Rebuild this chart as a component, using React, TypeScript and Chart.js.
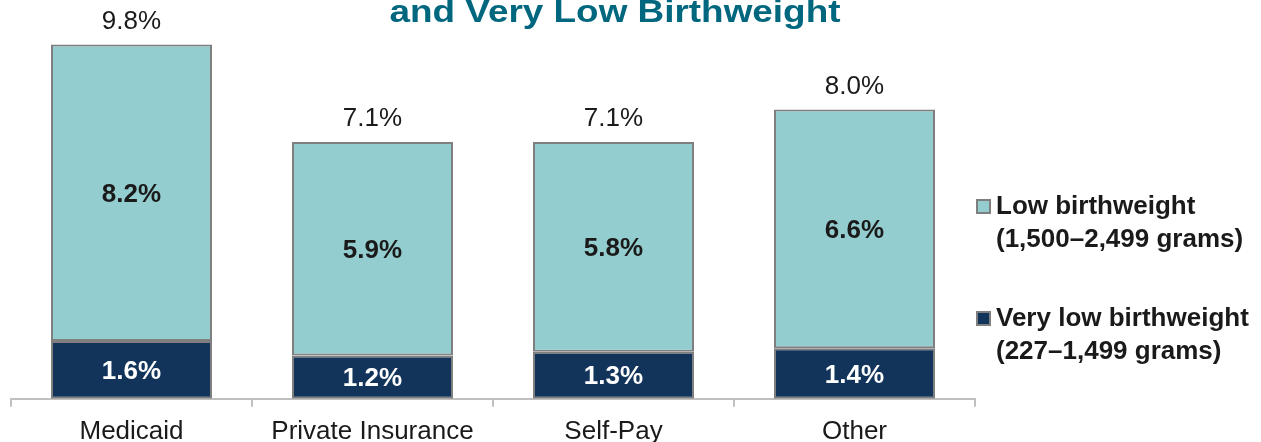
import React, { useEffect, useRef } from "react";
import { Chart, registerables } from "chart.js";

Chart.register(...registerables);

// ---- data ----
const categories = ["Medicaid", "Private Insurance", "Self-Pay", "Other"];
const veryLowValues = [1.6, 1.2, 1.3, 1.4];
const lowValues = [8.2, 5.9, 5.8, 6.6];
const totalValues = [9.8, 7.1, 7.1, 8.0];
const seriesNames = ["Very low birthweight", "Low birthweight"];
const seriesRanges = ["(227–1,499 grams)", "(1,500–2,499 grams)"];
const titleText = "and Very Low Birthweight";

// ---- styles ----
const FONT = "'Liberation Sans', Arial, sans-serif";
const LOW_COLOR = "#93CDCF";
const VERY_LOW_COLOR = "#12345A";
const BORDER_COLOR = "#7F7F7F";
const AXIS_COLOR = "#C0C0C0";
const TEXT_COLOR = "#1A1A1A";
const TITLE_COLOR = "#00677F";

const fmt = (v: number) => v.toFixed(1) + "%";

const labelsPlugin = {
  id: "segmentLabels",
  afterDatasetsDraw(chart: any) {
    const ctx = chart.ctx;
    ctx.save();
    ctx.textAlign = "center";
    ctx.textBaseline = "middle";
    chart.data.datasets.forEach((ds: any, di: number) => {
      const meta = chart.getDatasetMeta(di);
      meta.data.forEach((el: any, i: number) => {
        const { x, y, base } = el.getProps(["x", "y", "base"], true);
        ctx.font = `bold 26px ${FONT}`;
        ctx.fillStyle = di === 0 ? "#FFFFFF" : TEXT_COLOR;
        ctx.fillText(fmt(ds.data[i]), x, (y + base) / 2 + 2);
      });
    });
    const topMeta = chart.getDatasetMeta(chart.data.datasets.length - 1);
    topMeta.data.forEach((el: any, i: number) => {
      const { x, y } = el.getProps(["x", "y"], true);
      ctx.font = `26px ${FONT}`;
      ctx.fillStyle = TEXT_COLOR;
      ctx.fillText(fmt(totalValues[i]), x, y - 23);
    });
    ctx.restore();
  },
};

const legendPlugin = {
  id: "sideLegend",
  afterDraw(chart: any) {
    const ctx = chart.ctx;
    const area = chart.chartArea;
    const boxX = area.right + 1;
    const textX = area.right + 21;
    const lineGap = 33;
    const firstLineY = [area.top + 206, area.top + 318];
    const order = [1, 0];
    ctx.save();
    ctx.textAlign = "left";
    ctx.textBaseline = "middle";
    ctx.font = `bold 26px ${FONT}`;
    order.forEach((di, k) => {
      const ds = chart.data.datasets[di];
      const y0 = firstLineY[k];
      ctx.fillStyle = ds.backgroundColor;
      ctx.fillRect(boxX, y0 - 8, 15, 15);
      ctx.strokeStyle = BORDER_COLOR;
      ctx.lineWidth = 2;
      ctx.strokeRect(boxX + 1, y0 - 7, 13, 13);
      ctx.fillStyle = TEXT_COLOR;
      ctx.fillText(seriesNames[di], textX, y0);
      ctx.fillText(seriesRanges[di], textX, y0 + lineGap);
    });
    ctx.restore();
  },
};

export default function App() {
  const canvasRef = useRef<HTMLCanvasElement | null>(null);

  useEffect(() => {
    if (!canvasRef.current) return;
    const chart = new Chart(canvasRef.current, {
      type: "bar",
      data: {
        labels: categories,
        datasets: [
          {
            label: seriesNames[0],
            data: veryLowValues,
            backgroundColor: VERY_LOW_COLOR,
            borderColor: BORDER_COLOR,
            borderWidth: 2,
            borderSkipped: false,
            barPercentage: 0.668,
            categoryPercentage: 1,
          },
          {
            label: seriesNames[1],
            data: lowValues,
            backgroundColor: LOW_COLOR,
            borderColor: BORDER_COLOR,
            borderWidth: 2,
            borderSkipped: false,
            barPercentage: 0.668,
            categoryPercentage: 1,
          },
        ],
      },
      options: {
        responsive: false,
        animation: false,
        layout: { padding: { left: 11, right: 286, top: 1, bottom: -14 } },
        plugins: {
          legend: { display: false },
          title: { display: false },
          tooltip: { enabled: false },
        },
        scales: {
          x: {
            stacked: true,
            offset: true,
            grid: {
              display: true,
              offset: true,
              drawOnChartArea: false,
              drawTicks: true,
              tickLength: 8,
              color: AXIS_COLOR,
              lineWidth: 2,
            },
            border: { display: true, color: AXIS_COLOR, width: 2 },
            ticks: {
              color: TEXT_COLOR,
              font: { family: FONT, size: 26 },
              padding: 9,
              maxRotation: 0,
              autoSkip: false,
            },
          },
          y: {
            stacked: true,
            display: false,
            min: 0,
            max: 11,
          },
        },
      },
      plugins: [labelsPlugin, legendPlugin],
    });
    return () => chart.destroy();
  }, []);

  return (
    <div
      style={{
        position: "fixed",
        left: 0,
        top: 0,
        width: 1261,
        height: 442,
        overflow: "hidden",
        background: "#FFFFFF",
      }}
    >
      <canvas ref={canvasRef} width={1261} height={442} style={{ display: "block" }} />
      <div
        style={{
          position: "absolute",
          left: 0,
          top: -4,
          width: 1230,
          textAlign: "center",
          fontFamily: FONT,
          fontWeight: "bold",
          fontSize: 31,
          lineHeight: "31px",
          color: TITLE_COLOR,
          transform: "scaleX(1.19)",
          transformOrigin: "615px 50%",
          whiteSpace: "nowrap",
          pointerEvents: "none",
        }}
      >
        {titleText}
      </div>
    </div>
  );
}
